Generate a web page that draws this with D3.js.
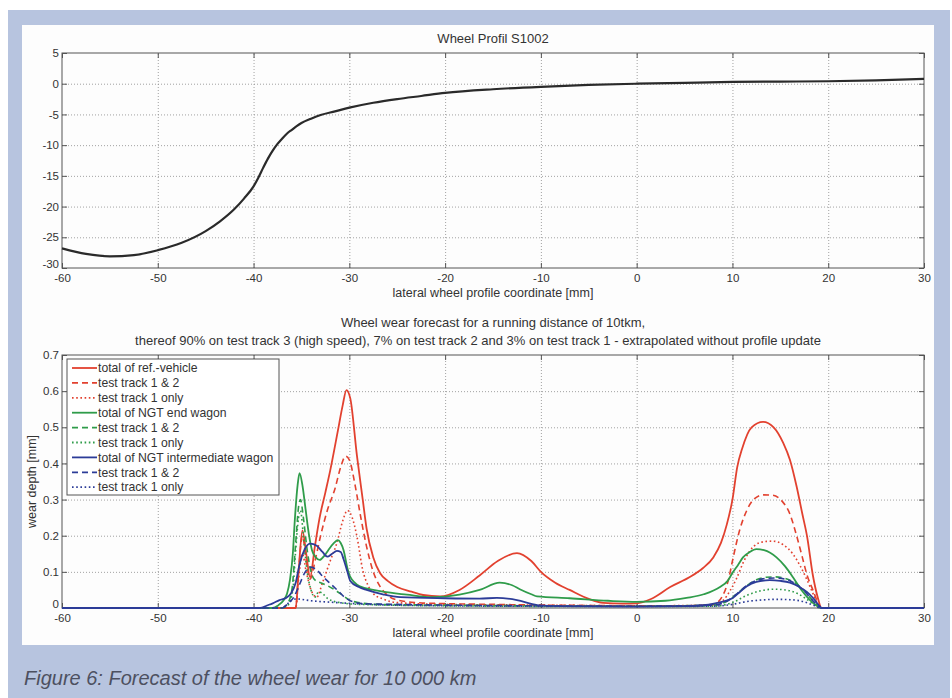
<!DOCTYPE html>
<html>
<head>
<meta charset="utf-8">
<script src="https://cdn.jsdelivr.net/npm/d3@7/dist/d3.min.js"></script>
<style>
  body { margin: 0; background: #fff; }
  svg { display: block; font-family: "Liberation Sans", Arial, sans-serif; }
  .tick text { font-size: 11.5px; fill: #333; }
  .grid line { stroke: #8a8a8a; stroke-dasharray: 1,2; stroke-width: 0.8; }
  .grid .domain { display: none; }
</style>
</head>
<body>
<svg width="952" height="698"></svg>
<script>
const WIDTH = 952;
const HEIGHT = 698;

// top chart: S1002 wheel profile
const profileX = [-60, -57.5, -55, -52.5, -50, -47.5, -45, -43.5, -42, -41, -40, -39.5, -39, -38.5, -38, -37.5, -37, -36.5, -36, -35.5, -35, -34, -33, -31.5, -30, -27.5, -25, -22.5, -20, -15, -10, -5, 0, 5, 10, 15, 20, 25, 30];
const profileY = [-26.8, -27.7, -28.1, -27.9, -27.1, -25.9, -24.0, -22.4, -20.4, -18.7, -16.7, -15.3, -13.7, -12.2, -10.9, -9.8, -8.9, -8.1, -7.5, -6.9, -6.4, -5.7, -5.1, -4.5, -3.9, -3.1, -2.5, -2.0, -1.5, -0.9, -0.5, -0.2, 0.0, 0.15, 0.3, 0.35, 0.4, 0.55, 0.8];
const topXTicks = [-60, -50, -40, -30, -20, -10, 0, 10, 20, 30];
const topYTicks = [5, 0, -5, -10, -15, -20, -25, -30];

// bottom chart: wear depth [mm] vs lateral coordinate [mm]
const refTotal = [[-60,0],[-35.6,0],[-35.3,0.1],[-34.9,0.215],[-34.5,0.15],[-34.1,0.085],[-33.6,0.17],[-33.1,0.25],[-32.5,0.32],[-32,0.38],[-31.2,0.49],[-30.7,0.56],[-30.3,0.603],[-29.9,0.58],[-29.2,0.42],[-28.6,0.3],[-28.2,0.22],[-27.5,0.14],[-26.8,0.097],[-26,0.075],[-25,0.058],[-23.5,0.045],[-22.3,0.036],[-20.5,0.032],[-18.5,0.05],[-16.4,0.09],[-14.5,0.13],[-12.5,0.152],[-11,0.13],[-10,0.1],[-8.5,0.07],[-7,0.05],[-5,0.025],[-3.5,0.014],[-1.5,0.012],[0,0.013],[1.5,0.025],[3.5,0.058],[5.5,0.085],[6.9,0.11],[8,0.14],[8.8,0.18],[9.4,0.23],[10,0.3],[10.5,0.39],[11,0.44],[12,0.5],[13.2,0.515],[14.3,0.5],[15.3,0.457],[16,0.41],[16.7,0.336],[17.3,0.26],[17.8,0.197],[18.4,0.09],[18.9,0.03],[19.3,0],[30,0]];
const refTrack12 = [[-60,0],[-35.6,0],[-35.3,0.1],[-34.9,0.2],[-34.5,0.13],[-34.1,0.08],[-33.5,0.14],[-33,0.2],[-32.3,0.27],[-31.5,0.33],[-30.9,0.39],[-30.4,0.42],[-30,0.41],[-29.4,0.34],[-28.8,0.25],[-28.2,0.17],[-27.5,0.1],[-26.8,0.06],[-26,0.035],[-25,0.022],[-23,0.015],[-20,0.012],[-15,0.01],[-10,0.008],[-5,0.007],[0,0.006],[5,0.006],[8,0.01],[9,0.035],[9.6,0.08],[10,0.13],[10.8,0.22],[11.5,0.27],[12.2,0.3],[13.2,0.313],[14.2,0.312],[15.2,0.295],[16,0.26],[16.7,0.2],[17.3,0.14],[17.8,0.09],[18.4,0.05],[19,0.01],[19.3,0],[30,0]];
const refTrack1 = [[-60,0],[-35.6,0],[-35.3,0.08],[-34.9,0.15],[-34.5,0.1],[-34,0.05],[-33.4,0.03],[-32.8,0.07],[-32,0.13],[-31.3,0.18],[-30.7,0.24],[-30.2,0.27],[-29.7,0.25],[-29.2,0.197],[-28.6,0.105],[-28,0.06],[-27.5,0.04],[-26.5,0.025],[-25,0.015],[-20,0.01],[-10,0.008],[0,0.006],[8,0.008],[9,0.02],[9.8,0.05],[10.4,0.08],[11.2,0.13],[12.2,0.17],[13.2,0.183],[14.2,0.185],[15.3,0.175],[16.3,0.15],[17.1,0.115],[17.8,0.077],[18.5,0.035],[19.2,0],[30,0]];
const endTotal = [[-60,0],[-38,0],[-37.4,0.008],[-36.9,0.02],[-36.5,0.04],[-36.2,0.078],[-35.9,0.15],[-35.7,0.24],[-35.4,0.34],[-35.2,0.373],[-34.9,0.34],[-34.6,0.28],[-34.2,0.2],[-33.9,0.16],[-33.5,0.14],[-33.1,0.133],[-32.6,0.145],[-32.2,0.16],[-31.6,0.18],[-31.2,0.188],[-30.9,0.18],[-30.6,0.16],[-30.2,0.11],[-29.9,0.086],[-28.9,0.06],[-27.5,0.05],[-26.5,0.045],[-24,0.037],[-21.3,0.03],[-18.5,0.037],[-16.4,0.05],[-14.3,0.07],[-13,0.063],[-12.2,0.052],[-11,0.038],[-10.4,0.032],[-7,0.027],[-3,0.02],[0,0.017],[3,0.02],[5.2,0.028],[7,0.038],[8.7,0.058],[9.5,0.075],[10,0.097],[10.6,0.12],[11.1,0.14],[11.8,0.155],[12.5,0.163],[13.3,0.16],[14.6,0.14],[15.5,0.115],[16.3,0.086],[17.2,0.05],[18.1,0.022],[18.8,0.006],[19.2,0],[30,0]];
const endTrack12 = [[-60,0],[-37,0],[-36.5,0.01],[-36,0.05],[-35.6,0.18],[-35.3,0.28],[-35.1,0.3],[-34.8,0.25],[-34.4,0.16],[-34,0.1],[-33.5,0.075],[-33,0.07],[-32.3,0.062],[-31.5,0.05],[-30.7,0.035],[-30,0.022],[-29,0.015],[-27,0.01],[-20,0.008],[-10,0.006],[0,0.005],[8,0.008],[9.5,0.02],[10.5,0.04],[11.5,0.062],[12.5,0.078],[13.5,0.085],[14.5,0.086],[15.5,0.082],[16.5,0.07],[17.5,0.048],[18.4,0.02],[19.1,0.003],[19.3,0],[30,0]];
const endTrack1 = [[-60,0],[-37,0],[-36.4,0.008],[-35.9,0.05],[-35.6,0.16],[-35.3,0.25],[-35.1,0.27],[-34.8,0.2],[-34.4,0.1],[-34,0.05],[-33.6,0.03],[-33.2,0.045],[-32.8,0.04],[-32.2,0.025],[-31,0.015],[-29,0.01],[-20,0.006],[0,0.004],[8,0.005],[10,0.015],[11.5,0.035],[13,0.048],[14.3,0.052],[15.5,0.05],[16.8,0.04],[18,0.02],[19,0.003],[19.3,0],[30,0]];
const midTotal = [[-60,0],[-39.3,0],[-38.6,0.007],[-38,0.013],[-37.3,0.022],[-36.6,0.028],[-36.1,0.04],[-35.6,0.07],[-35.2,0.12],[-34.7,0.16],[-34.1,0.178],[-33.4,0.172],[-32.8,0.155],[-32.3,0.142],[-31.8,0.15],[-31.3,0.158],[-30.9,0.155],[-30.6,0.135],[-30.2,0.1],[-29.9,0.075],[-29,0.058],[-28.2,0.05],[-26.5,0.038],[-24.7,0.03],[-20,0.027],[-16.4,0.026],[-14.6,0.028],[-12.5,0.022],[-10.4,0.008],[-8,0.005],[0,0.004],[5,0.005],[7.5,0.009],[8.4,0.014],[9.3,0.02],[10,0.027],[10.8,0.045],[11.5,0.06],[12.5,0.072],[13.9,0.077],[15,0.075],[16,0.07],[17,0.058],[17.8,0.044],[18.5,0.025],[19.1,0.005],[19.3,0],[30,0]];
const midTrack12 = [[-60,0],[-37,0],[-36.5,0.01],[-35.8,0.03],[-35.2,0.065],[-34.6,0.1],[-34,0.113],[-33.4,0.105],[-32.7,0.085],[-32,0.068],[-31.2,0.048],[-30.5,0.03],[-29.7,0.018],[-28.5,0.012],[-25,0.01],[-20,0.008],[-10,0.006],[0,0.005],[8,0.008],[9.5,0.02],[10.5,0.04],[11.5,0.062],[12.5,0.076],[13.5,0.082],[14.5,0.083],[15.5,0.08],[16.5,0.068],[17.5,0.047],[18.4,0.02],[19.1,0.003],[19.3,0],[30,0]];
const midTrack1 = [[-60,0],[-37,0],[-36.6,0.008],[-36.1,0.02],[-35.5,0.025],[-34,0.02],[-32,0.016],[-30,0.013],[-28,0.01],[-20,0.006],[0,0.004],[8,0.005],[10,0.01],[11.5,0.018],[13,0.022],[14.5,0.024],[16,0.023],[17.5,0.017],[18.6,0.006],[19.2,0],[30,0]];
const wearYTicks = [0, 0.1, 0.2, 0.3, 0.4, 0.5, 0.6, 0.7];

const seriesNames = ["total of ref.-vehicle", "test track 1 & 2", "test track 1 only",
  "total of NGT end wagon", "test track 1 & 2", "test track 1 only",
  "total of NGT intermediate wagon", "test track 1 & 2", "test track 1 only"];
const seriesData = [refTotal, refTrack12, refTrack1, endTotal, endTrack12, endTrack1, midTotal, midTrack12, midTrack1];

const RED = "#e2412f", GREEN = "#2f9c4a", BLUE = "#2c3c98";
const seriesColor = [RED, RED, RED, GREEN, GREEN, GREEN, BLUE, BLUE, BLUE];
const seriesDash = [null, "6,4", "1.6,2.6", null, "6,4", "1.6,2.6", null, "6,4", "1.6,2.6"];

const PLOT_L = 62, PLOT_R = 924;
const TOP_T = 53, TOP_B = 268;
const BOT_T = 355, BOT_B = 608;
const TICK = 5;

// plain hyphen for negatives, like the original plot
const numFmt = d => String(d);

const svg = d3.select("svg");

// page frame
svg.append("rect").attr("x", 8).attr("y", 10).attr("width", 942).attr("height", HEIGHT - 10).attr("fill", "#b7c4df");
svg.append("rect").attr("x", 22).attr("y", 25).attr("width", 912).attr("height", 620).attr("fill", "#fdfdfd");

svg.append("text")
  .attr("x", 24).attr("y", 685)
  .attr("font-size", 20).attr("font-style", "italic")
  .attr("fill", "#4d5060")
  .text("Figure 6: Forecast of the wheel wear for 10 000 km");

const xScale = d3.scaleLinear().domain([-60, 30]).range([PLOT_L, PLOT_R]);
const yTop = d3.scaleLinear().domain([-30, 5]).range([TOP_B, TOP_T]);
const yBot = d3.scaleLinear().domain([0, 0.7]).range([BOT_B, BOT_T]);

function drawFrame(yScale, top, bottom, yTicks, yFmt) {
  const h = bottom - top;
  const w = PLOT_R - PLOT_L;
  // grid
  svg.append("g").attr("class", "grid")
    .attr("transform", `translate(0,${bottom})`)
    .call(d3.axisBottom(xScale).tickValues(topXTicks.slice(1, -1)).tickSize(-h).tickFormat(""));
  svg.append("g").attr("class", "grid")
    .attr("transform", `translate(${PLOT_L},0)`)
    .call(d3.axisLeft(yScale).tickValues(yTicks.filter(t => t !== yScale.domain()[0] && t !== yScale.domain()[1])).tickSize(-w).tickFormat(""));

  // axes with inward ticks on all four sides
  const gx = svg.append("g")
    .attr("transform", `translate(0,${bottom})`)
    .call(d3.axisBottom(xScale).tickValues(topXTicks).tickFormat(numFmt).tickSizeInner(-TICK).tickSizeOuter(0).tickPadding(6));
  const gy = svg.append("g")
    .attr("transform", `translate(${PLOT_L},0)`)
    .call(d3.axisLeft(yScale).tickValues(yTicks).tickFormat(yFmt).tickSizeInner(-TICK).tickSizeOuter(0).tickPadding(3));
  const gt = svg.append("g")
    .attr("transform", `translate(0,${top})`)
    .call(d3.axisTop(xScale).tickValues(topXTicks).tickSizeInner(-TICK).tickSizeOuter(0).tickFormat(""));
  const gr = svg.append("g")
    .attr("transform", `translate(${PLOT_R},0)`)
    .call(d3.axisRight(yScale).tickValues(yTicks).tickSizeInner(-TICK).tickSizeOuter(0).tickFormat(""));
  [gx, gy, gt, gr].forEach(g => {
    g.selectAll(".domain").remove();
    g.selectAll(".tick line").attr("stroke", "#555");
    g.attr("font-family", null).attr("font-size", null);
  });
  // lowest y label sits just above the first x label, as in the original
  gy.selectAll(".tick text").filter(d => d === yScale.domain()[0]).attr("dy", "-0.05em");
  svg.append("rect")
    .attr("x", PLOT_L).attr("y", top).attr("width", w).attr("height", h)
    .attr("fill", "none").attr("stroke", "#555").attr("stroke-width", 1);
}

// ---- top chart ----
drawFrame(yTop, TOP_T, TOP_B, topYTicks, numFmt);

svg.append("text")
  .attr("x", (PLOT_L + PLOT_R) / 2).attr("y", 43)
  .attr("text-anchor", "middle").attr("font-size", 13).attr("fill", "#333")
  .text("Wheel Profil S1002");
svg.append("text")
  .attr("x", (PLOT_L + PLOT_R) / 2).attr("y", 297)
  .attr("text-anchor", "middle").attr("font-size", 12.5).attr("fill", "#333")
  .text("lateral wheel profile coordinate [mm]");

const profileLine = d3.line()
  .x((d, i) => xScale(profileX[i]))
  .y(d => yTop(d))
  .curve(d3.curveMonotoneX);

svg.append("path")
  .datum(profileY)
  .attr("d", profileLine)
  .attr("fill", "none")
  .attr("stroke", "#2a2a2a")
  .attr("stroke-width", 2.2);

// ---- bottom chart ----
drawFrame(yBot, BOT_T, BOT_B, wearYTicks, d => d === 0 ? "0" : d3.format(".1f")(d));

svg.append("text")
  .attr("x", (PLOT_L + PLOT_R) / 2).attr("y", 327)
  .attr("text-anchor", "middle").attr("font-size", 13).attr("fill", "#333")
  .text("Wheel wear forecast for a running distance of 10tkm,");
svg.append("text")
  .attr("x", (PLOT_L + PLOT_R) / 2 - 15).attr("y", 345)
  .attr("text-anchor", "middle").attr("font-size", 13).attr("fill", "#333")
  .text("thereof 90% on test track 3 (high speed), 7% on test track 2 and 3% on test track 1 - extrapolated without profile update");
svg.append("text")
  .attr("x", (PLOT_L + PLOT_R) / 2).attr("y", 637)
  .attr("text-anchor", "middle").attr("font-size", 12.5).attr("fill", "#333")
  .text("lateral wheel profile coordinate [mm]");
svg.append("text")
  .attr("transform", `translate(36,${(BOT_T + BOT_B) / 2}) rotate(-90)`)
  .attr("text-anchor", "middle").attr("font-size", 12.5).attr("fill", "#333")
  .text("wear depth [mm]");

svg.append("clipPath").attr("id", "clipBot")
  .append("rect").attr("x", PLOT_L).attr("y", BOT_T).attr("width", PLOT_R - PLOT_L).attr("height", BOT_B - BOT_T + 1);

const wearLine = d3.line()
  .x(d => xScale(d[0]))
  .y(d => yBot(d[1]))
  .curve(d3.curveMonotoneX);

svg.append("g").attr("clip-path", "url(#clipBot)")
  .selectAll("path")
  .data(seriesData)
  .join("path")
  .attr("d", wearLine)
  .attr("fill", "none")
  .attr("stroke", (d, i) => seriesColor[i])
  .attr("stroke-width", (d, i) => seriesDash[i] === null ? 1.8 : 1.6)
  .attr("stroke-dasharray", (d, i) => seriesDash[i]);

// legend
const legend = svg.append("g").attr("transform", "translate(67,359)");
legend.append("rect")
  .attr("width", 212).attr("height", 136)
  .attr("fill", "#fff").attr("stroke", "#555").attr("stroke-width", 1);
const legItems = legend.selectAll("g.item")
  .data(seriesNames)
  .join("g")
  .attr("class", "item")
  .attr("transform", (d, i) => `translate(0,${9 + i * 14.9})`);
legItems.append("line")
  .attr("x1", 5).attr("x2", 30)
  .attr("stroke", (d, i) => seriesColor[i])
  .attr("stroke-width", 1.8)
  .attr("stroke-dasharray", (d, i) => seriesDash[i]);
legItems.append("text")
  .attr("x", 31).attr("dy", "0.35em")
  .attr("font-size", 12.2).attr("fill", "#333")
  .text(d => d);
</script>
</body>
</html>
